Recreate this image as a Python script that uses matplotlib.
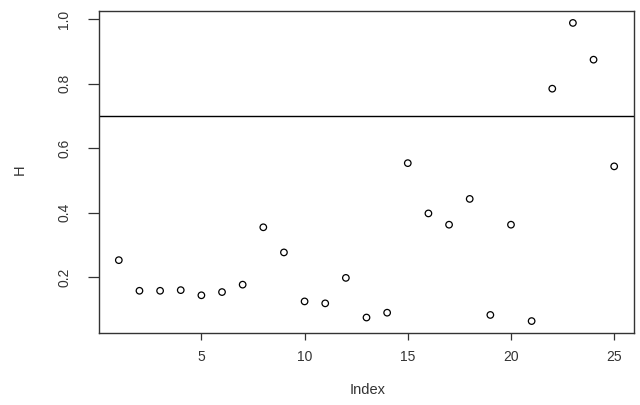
import numpy as np
import matplotlib
matplotlib.use("Agg")
from matplotlib import pyplot as plt

# values
index = list(range(1, 26))
H = [0.253, 0.158, 0.158, 0.160, 0.144, 0.154, 0.177, 0.355, 0.277, 0.125,
     0.119, 0.198, 0.075, 0.090, 0.554, 0.398, 0.363, 0.443, 0.083, 0.363,
     0.064, 0.785, 0.989, 0.875, 0.544]
threshold = 0.7
xticks = [5, 10, 15, 20, 25]
yticks = [0.2, 0.4, 0.6, 0.8, 1.0]

plt.rcParams['font.family'] = ['Liberation Sans', 'DejaVu Sans']

fig = plt.figure(figsize=(6.4, 4.05), dpi=100)
ax = fig.add_axes([99/640, 1 - 333/405, 535/640, 322/405])

ax.scatter(index, H, s=22, facecolors='none', edgecolors='black', linewidths=0.9)
ax.axhline(threshold, color='black', lw=1)

# R-style 4% padding
xr = max(index) - min(index)
ax.set_xlim(min(index) - 0.04*xr, max(index) + 0.04*xr)
yr = max(H) - min(H)
ax.set_ylim(min(H) - 0.04*yr, max(H) + 0.04*yr)

ax.set_xticks(xticks)
ax.set_yticks(yticks)
ax.set_xticklabels([str(t) for t in xticks])
ax.set_yticklabels(["%.1f" % t for t in yticks], rotation=90, va='center')
ax.tick_params(axis='x', length=5, width=0.9, pad=7, labelsize=10, colors='#333333')
ax.tick_params(axis='y', length=8, width=0.9, pad=12, labelsize=10, colors='#333333')

for s in ax.spines.values():
    s.set_linewidth(1.0)
    s.set_color('#333333')

ax.set_xlabel("Index", fontsize=10.5, color='#333333', va='center')
ax.xaxis.set_label_coords(0.503, -0.177)
ax.set_ylabel("H", fontsize=10.5, color='#333333', va='center')
ax.yaxis.set_label_coords(-0.148, 0.506)

fig.savefig("out.png", dpi=100)
